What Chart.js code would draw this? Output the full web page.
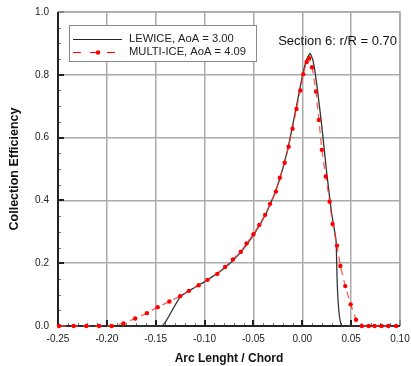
<!DOCTYPE html>
<html><head><meta charset="utf-8">
<script src="https://cdn.jsdelivr.net/npm/chart.js@4/dist/chart.umd.min.js"></script>
<style>html,body{margin:0;padding:0;background:#fff}#wrap{width:411px;height:366px}</style>
</head><body><div id="wrap"><canvas id="c" width="411" height="366"></canvas></div>
<script>
const seriesNames = ['LEWICE, AoA = 3.00', 'MULTI-ICE, AoA = 4.09'];
const xTickValues = [-0.25, -0.20, -0.15, -0.10, -0.05, 0.00, 0.05, 0.10];
const yTickValues = [0.0, 0.2, 0.4, 0.6, 0.8, 1.0];
const lewiceX = [-0.25, -0.144, -0.139, -0.125, -0.115, -0.105, -0.095, -0.085, -0.075, -0.065, -0.055, -0.045, -0.035, -0.025, -0.015, -0.005, 0.000, 0.004, 0.008, 0.011, 0.015, 0.020, 0.025, 0.030, 0.0345, 0.0405, 0.10];
const lewiceY = [0, 0, 0.018, 0.093, 0.114, 0.132, 0.151, 0.172, 0.197, 0.228, 0.267, 0.314, 0.372, 0.450, 0.562, 0.715, 0.795, 0.845, 0.868, 0.845, 0.765, 0.635, 0.488, 0.36, 0.273, 0, 0];
const multiX = [-0.249, -0.234, -0.221, -0.208, -0.195, -0.183, -0.171, -0.159, -0.148, -0.136, -0.125, -0.116, -0.106, -0.097, -0.087, -0.079, -0.071, -0.063, -0.057, -0.050, -0.044, -0.038, -0.033, -0.027, -0.023, -0.018, -0.014, -0.010, -0.006, -0.002, 0.001, 0.0045, 0.007, 0.010, 0.014, 0.017, 0.020, 0.024, 0.028, 0.031, 0.0355, 0.039, 0.044, 0.0495, 0.055, 0.061, 0.068, 0.074, 0.081, 0.088, 0.096];
const multiY = [0, 0, 0, 0, 0, 0.008, 0.024, 0.041, 0.060, 0.078, 0.095, 0.112, 0.130, 0.147, 0.166, 0.188, 0.212, 0.236, 0.263, 0.292, 0.322, 0.354, 0.389, 0.428, 0.472, 0.520, 0.571, 0.628, 0.691, 0.750, 0.802, 0.841, 0.853, 0.824, 0.747, 0.656, 0.561, 0.476, 0.396, 0.325, 0.256, 0.191, 0.127, 0.069, 0.020, 0, 0, 0, 0, 0, 0];
const annotationText = 'Section 6: r/R = 0.70';
const xTitle = 'Arc Lenght / Chord';
const yTitle = 'Collection Efficiency';

const FONT = "'Liberation Sans', Arial, Helvetica, sans-serif";

const decorPlugin = {
  id: 'decor',
  beforeDatasetsDraw(chart) {
    const {ctx, chartArea: a, scales: {x, y}} = chart;
    ctx.save();
    ctx.strokeStyle = '#777';
    ctx.lineWidth = 1;
    for (let v = -0.25; v <= 0.1001; v += 0.01) {
      const px = Math.round(x.getPixelForValue(v)) + 0.5;
      ctx.beginPath(); ctx.moveTo(px, a.bottom); ctx.lineTo(px, a.bottom - 3); ctx.stroke();
    }
    for (let v = 0; v <= 1.0001; v += 0.05) {
      const py = Math.round(y.getPixelForValue(v)) + 0.5;
      ctx.beginPath(); ctx.moveTo(a.left, py); ctx.lineTo(a.left + 3, py); ctx.stroke();
    }
    ctx.strokeStyle = '#222';
    ctx.lineWidth = 2;
    xTickValues.forEach(v => {
      const px = Math.round(x.getPixelForValue(v));
      ctx.beginPath(); ctx.moveTo(px, a.bottom); ctx.lineTo(px, a.bottom - 6); ctx.stroke();
    });
    yTickValues.forEach(v => {
      const py = Math.round(y.getPixelForValue(v));
      ctx.beginPath(); ctx.moveTo(a.left, py); ctx.lineTo(a.left + 6, py); ctx.stroke();
    });
    ctx.strokeStyle = '#aaa'; ctx.lineWidth = 1.5;
    ctx.beginPath(); ctx.moveTo(a.left, a.top); ctx.lineTo(a.right, a.top); ctx.lineTo(a.right, a.bottom); ctx.stroke();
    ctx.strokeStyle = '#222'; ctx.lineWidth = 2;
    ctx.beginPath(); ctx.moveTo(a.left, a.top); ctx.lineTo(a.left, a.bottom); ctx.lineTo(a.right, a.bottom); ctx.stroke();
    ctx.restore();
  },
  afterDatasetsDraw(chart) {
    const {ctx} = chart;
    ctx.save();
    const bx = 69, by = 25, bw = 187, bh = 36;
    ctx.fillStyle = '#fff';
    ctx.fillRect(bx, by, bw, bh);
    ctx.strokeStyle = '#888'; ctx.lineWidth = 1;
    ctx.strokeRect(bx + 0.5, by + 0.5, bw, bh);
    ctx.font = '11.2px ' + FONT;
    ctx.textBaseline = 'middle';
    ctx.fillStyle = '#222';
    let ly = 39;
    ctx.strokeStyle = '#222'; ctx.lineWidth = 1;
    ctx.beginPath(); ctx.moveTo(73, ly + 0.5); ctx.lineTo(122, ly + 0.5); ctx.stroke();
    ctx.fillText(chart.data.datasets[0].label, 129, ly);
    ly = 52;
    ctx.strokeStyle = '#f00'; ctx.lineWidth = 1;
    ctx.setLineDash([8, 9]);
    ctx.beginPath(); ctx.moveTo(73, ly + 0.5); ctx.lineTo(122, ly + 0.5); ctx.stroke();
    ctx.setLineDash([]);
    ctx.fillStyle = '#f00';
    ctx.beginPath(); ctx.arc(98, ly + 0.5, 2.3, 0, Math.PI * 2); ctx.fill();
    ctx.fillStyle = '#222';
    ctx.fillText(chart.data.datasets[1].label, 129, ly);
    ctx.font = '13px ' + FONT;
    ctx.fillStyle = '#111';
    ctx.textAlign = 'right';
    ctx.fillText(annotationText, 397, 41);
    ctx.restore();
  }
};

new Chart(document.getElementById('c'), {
  type: 'scatter',
  data: {
    datasets: [
      {
        label: seriesNames[0],
        data: lewiceX.map((v, i) => ({x: v, y: lewiceY[i]})),
        showLine: true,
        borderColor: '#333',
        borderWidth: 1.3,
        pointRadius: 0,
        fill: false,
        tension: 0.15,
        order: 2
      },
      {
        label: seriesNames[1],
        data: multiX.map((v, i) => ({x: v, y: multiY[i]})),
        showLine: true,
        borderColor: 'rgba(255,60,60,0.85)',
        borderWidth: 1.3,
        borderDash: [7, 5],
        pointRadius: 2.2,
        pointBackgroundColor: '#f00',
        pointBorderWidth: 0,
        fill: false,
        order: 1
      }
    ]
  },
  options: {
    responsive: false,
    animation: false,
    clip: false,
    layout: {padding: {top: 12, right: 11, left: 0, bottom: 0}},
    plugins: {legend: {display: false}, tooltip: {enabled: false}},
    scales: {
      x: {
        type: 'linear', min: -0.25, max: 0.10,
        afterBuildTicks: s => { s.ticks = xTickValues.map(v => ({value: v})); },
        afterFit: s => { s.height = 40; s.paddingLeft = 0; s.paddingRight = 0; },
        grid: {color: '#aaa', lineWidth: 1.5, drawTicks: false, drawOnChartArea: true},
        border: {display: false},
        ticks: {
          padding: 7, color: '#222', font: {size: 10, family: FONT}, maxRotation: 0,
          callback: v => v.toFixed(2)
        },
        title: {display: true, text: xTitle, color: '#111', font: {size: 12, weight: 'bold', family: FONT}, padding: {top: 1, bottom: 0}}
      },
      y: {
        type: 'linear', min: 0, max: 1.0,
        afterBuildTicks: s => { s.ticks = yTickValues.map(v => ({value: v})); },
        afterFit: s => { s.width = 58; s.paddingTop = 0; s.paddingBottom = 0; },
        grid: {color: '#aaa', lineWidth: 1.5, drawTicks: false},
        border: {display: false},
        ticks: {padding: 9, color: '#222', font: {size: 10, family: FONT}, callback: v => v.toFixed(1)},
        title: {display: true, text: yTitle, color: '#111', font: {size: 12.5, weight: 'bold', family: FONT}, padding: {top: 7, bottom: 0}}
      }
    }
  },
  plugins: [decorPlugin]
});
</script>
</body></html>
